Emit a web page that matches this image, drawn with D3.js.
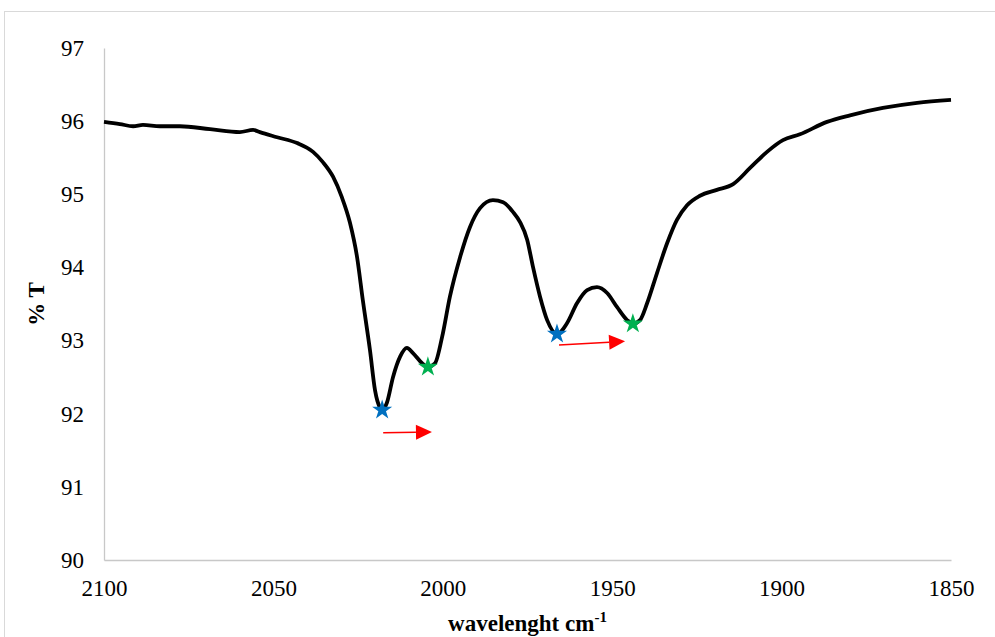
<!DOCTYPE html>
<html>
<head>
<meta charset="utf-8">
<script src="https://cdn.jsdelivr.net/npm/d3@7/dist/d3.min.js"></script>
<style>
  html, body { margin: 0; padding: 0; background: #ffffff; }
  svg { display: block; }
  svg text { font-family: "Liberation Serif", "Times New Roman", Times, "DejaVu Serif", serif; }
</style>
</head>
<body>
<svg id="chart" width="995" height="637"></svg>
<script>
// IR transmittance spectrum, wavenumber (cm-1) vs %T
const wavenumber = [2100.0, 2095.3, 2091.4, 2088.5, 2083.5, 2077.6, 2068.7, 2059.9, 2056.0, 2054.0,
  2048.9, 2043.0, 2038.3, 2035.4, 2032.4, 2029.8, 2027.4, 2025.3, 2023.6, 2021.5,
  2020.0, 2018.5, 2017.9, 2016.5, 2014.7, 2012.6, 2010.6, 2008.8, 2006.1, 2004.4,
  2002.3, 2000.2, 1997.9, 1994.9, 1992.0, 1989.0, 1985.2, 1982.2, 1979.3, 1977.2,
  1975.1, 1973.4, 1971.3, 1969.2, 1966.3, 1963.3, 1960.4, 1957.4, 1954.5, 1951.5,
  1948.6, 1945.6, 1943.9, 1941.8, 1939.7, 1936.8, 1933.8, 1930.9, 1927.9, 1924.1,
  1919.1, 1914.3, 1909.3, 1904.3, 1899.6, 1894.6, 1886.6, 1879.8, 1870.1, 1860.0,
  1850.0];
const transmittance = [95.99, 95.96, 95.93, 95.95, 95.93, 95.93, 95.89, 95.85, 95.88, 95.85,
  95.78, 95.70, 95.58, 95.44, 95.24, 94.96, 94.61, 94.14, 93.55, 92.87,
  92.32, 92.08, 92.05, 92.15, 92.50, 92.78, 92.90, 92.83, 92.69, 92.64,
  92.69, 93.05, 93.60, 94.14, 94.55, 94.81, 94.92, 94.89, 94.76, 94.62,
  94.38, 94.01, 93.60, 93.28, 93.09, 93.24, 93.51, 93.69, 93.73, 93.65,
  93.46, 93.28, 93.23, 93.28, 93.51, 93.92, 94.33, 94.65, 94.85, 94.98,
  95.06, 95.14, 95.36, 95.58, 95.74, 95.82, 95.99, 96.08, 96.18, 96.25,
  96.29];

// Marked band minima
const blueStarX = [2017.9, 1966.3];
const blueStarY = [92.05, 93.09];
const greenStarX = [2004.4, 1943.9];
const greenStarY = [92.64, 93.23];

// Shift arrows (from -> to)
const arrowFromX = [2017.6, 1965.7];
const arrowFromY = [91.74, 92.94];
const arrowToX = [2003.2, 1946.2];
const arrowToY = [91.75, 92.99];

const xTicks = [2100, 2050, 2000, 1950, 1900, 1850];
const yTicks = [90, 91, 92, 93, 94, 95, 96, 97];

const svg = d3.select("#chart");
const margin = { left: 104, right: 44, top: 48, bottom: 77 };
const W = 995, H = 637;

// outer chart frame
svg.append("rect")
  .attr("x", 4.5).attr("y", 11.5)
  .attr("width", 1000).attr("height", 700)
  .attr("fill", "none").attr("stroke", "#d9d9d9").attr("stroke-width", 1);

const x = d3.scaleLinear().domain([2100, 1850]).range([margin.left, W - margin.right]);
const y = d3.scaleLinear().domain([90, 97]).range([H - margin.bottom, margin.top]);

// axes
const xAxis = d3.axisBottom(x).tickValues(xTicks).tickSize(0).tickPadding(20).tickFormat(d3.format("d"));
const yAxis = d3.axisLeft(y).tickValues(yTicks).tickSize(0).tickPadding(20).tickFormat(d3.format("d"));

const gx = svg.append("g").attr("transform", `translate(0,${y(90)})`).call(xAxis);
const gy = svg.append("g").attr("transform", `translate(${x(2100)},0)`).call(yAxis);

[gx, gy].forEach(g => {
  g.attr("font-family", null);
  g.select(".domain").attr("stroke", "#c8c8c8").attr("stroke-width", 1.3);
  g.selectAll("text").attr("font-size", 23).attr("fill", "#000");
});

// spectrum line
const pts = wavenumber.map((w, i) => [w, transmittance[i]]);
svg.append("path")
  .datum(pts)
  .attr("fill", "none")
  .attr("stroke", "#000")
  .attr("stroke-width", 3.8)
  .attr("stroke-linejoin", "round")
  .attr("d", d3.line().x(d => x(d[0])).y(d => y(d[1])).curve(d3.curveMonotoneX));

// star markers
const star = d3.symbol().type(d3.symbolStar).size(125);
blueStarX.forEach((w, i) => {
  svg.append("path").attr("d", star)
    .attr("transform", `translate(${x(w)},${y(blueStarY[i])})`)
    .attr("fill", "#0070c0");
});
greenStarX.forEach((w, i) => {
  svg.append("path").attr("d", star)
    .attr("transform", `translate(${x(w)},${y(greenStarY[i])})`)
    .attr("fill", "#00b050");
});

// red arrows
arrowFromX.forEach((w, i) => {
  const x1 = x(w), y1 = y(arrowFromY[i]);
  const x2 = x(arrowToX[i]), y2 = y(arrowToY[i]);
  const ang = Math.atan2(y2 - y1, x2 - x1);
  const headL = 16, headW = 7.5;
  const bx = x2 - headL * Math.cos(ang), by = y2 - headL * Math.sin(ang);
  svg.append("line")
    .attr("x1", x1).attr("y1", y1).attr("x2", bx).attr("y2", by)
    .attr("stroke", "#ff0000").attr("stroke-width", 1.5);
  const px = -Math.sin(ang), py = Math.cos(ang);
  svg.append("path")
    .attr("d", `M${x2},${y2}L${bx + px * headW},${by + py * headW}L${bx - px * headW},${by - py * headW}Z`)
    .attr("fill", "#ff0000");
});

// axis titles
svg.append("text")
  .attr("transform", `translate(44,${(y(90) + y(97)) / 2}) rotate(-90)`)
  .attr("text-anchor", "middle")
  .attr("font-weight", "bold").attr("font-size", 23)
  .text("% T");

const xt = svg.append("text")
  .attr("x", (x(2100) + x(1850)) / 2).attr("y", 631)
  .attr("text-anchor", "middle")
  .attr("font-weight", "bold").attr("font-size", 23);
xt.append("tspan").text("wavelenght cm");
xt.append("tspan").attr("font-size", 15).attr("dy", -9).text("-1");
</script>
</body>
</html>
